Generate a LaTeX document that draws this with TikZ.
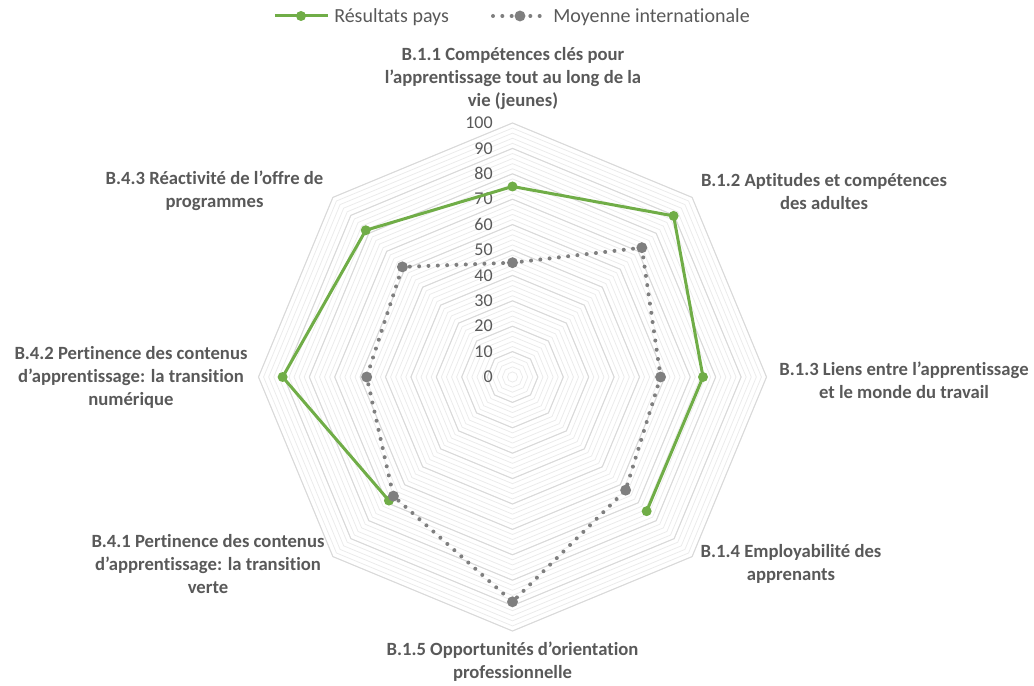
\documentclass[tikz,border=0pt]{standalone}
\usepackage{fontspec}
\setmainfont{Carlito}[Ligatures=NoCommon]
\definecolor{paysgreen}{HTML}{70AD47}
\definecolor{moygray}{HTML}{7F7F7F}
\definecolor{txtgray}{HTML}{595959}
\definecolor{gridmajor}{HTML}{D9D9D9}
\definecolor{gridminor}{HTML}{EBEBEB}
\tikzset{
  catlabel/.style={font=\bfseries\fontsize{14}{17.25}\selectfont, text=txtgray, align=center, inner sep=0pt},
  ticklabel/.style={font=\fontsize{13.5}{16}\selectfont, text=txtgray, anchor=east, inner sep=0pt},
  legendtext/.style={font=\fontsize{15}{18}\selectfont, text=txtgray, anchor=west, inner sep=0pt},
  paysline/.style={paysgreen, line width=2.25pt, line join=round},
  moyline/.style={moygray, line width=3pt, line cap=round, dash pattern=on 0pt off 7pt},
}
\begin{document}
\begin{tikzpicture}[x=0.75pt, y=0.75pt]
  \useasboundingbox (-512.5,-308) rectangle (521.5,377);
  \def\rs{2.54}
  % Grid
  \foreach \k in {1,...,50} {
    \pgfmathsetmacro\r{2*\k*\rs}
    \draw[gridminor, line width=0.6pt] (90:\r) \foreach \a in {45,0,...,-225} {-- (\a:\r)} -- cycle;
  }
  \foreach \k in {10,20,...,100} {
    \pgfmathsetmacro\r{\k*\rs}
    \draw[gridmajor, line width=0.75pt] (90:\r) \foreach \a in {45,0,...,-225} {-- (\a:\r)} -- cycle;
  }
  \foreach \v in {0,10,...,100}
    \node[ticklabel] (t\v) at (-19.5,\v*\rs) {\v};
  % Categories
  \node[catlabel] (l11) at (0.5,298) {B.1.1 Compétences clés pour\\l’apprentissage tout au long de la\\vie (jeunes)};
  \node[catlabel] (l12) at (311.5,185.5) {B.1.2 Aptitudes et compétences\\des adultes};
  \node[catlabel] (l13) at (391.5,-3) {B.1.3 Liens entre l’apprentissage\\et le monde du travail};
  \node[catlabel] (l14) at (278.5,-187) {B.1.4 Employabilité des\\apprenants};
  \node[catlabel] (l15) at (0,-285) {B.1.5 Opportunités d’orientation\\professionnelle};
  \node[catlabel] (l41) at (-304.5,-187) {B.4.1 Pertinence des contenus\\d’apprentissage: la transition\\verte};
  \node[catlabel] (l42) at (-381.5,-0.7) {B.4.2 Pertinence des contenus\\d’apprentissage: la transition\\numérique};
  \node[catlabel] (l43) at (-298,186) {B.4.3 Réactivité de l’offre de\\programmes};
  % Points
  \foreach \a/\v/\n in {90/75/p1, 45/89.7/p2, 0/75/p3, -45/74.7/p4, -135/68.8/p6, 180/90.5/p7, 135/81.7/p8}
    \coordinate (\n) at (\a:\v*\rs);
  \foreach \a/\v/\n in {90/45/m1, 45/72/m2, 0/58.3/m3, -45/63/m4, -90/88.5/m5, -135/66.3/m6, 180/57.4/m7, 135/61.3/m8}
    \coordinate (\n) at (\a:\v*\rs);
  % Series
  \draw[paysline] (p6) -- (p7) -- (p8) -- (p1) -- (p2) -- (p3) -- (p4);
  \foreach \n in {p1,p2,p3,p4,p6,p7,p8}
    \fill[paysgreen] (\n) circle (3.75pt);
  \draw[moyline] (m1) -- (m2) -- (m3) -- (m4) -- (m5) -- (m6) -- (m7) -- (m8) -- cycle;
  \foreach \n in {m1,m2,m3,m4,m5,m6,m7,m8}
    \fill[moygray] (\n) circle (4.1pt);
  % Legend
  \coordinate (lp1) at (-237.5,361);
  \coordinate (lp2) at (-184.5,361);
  \coordinate (lpm) at (-211.5,361);
  \draw[paysline] (lp1) -- (lp2);
  \fill[paysgreen] (lpm) circle (3.75pt);
  \node[legendtext] (legpays) at (-178.5,360) {Résultats pays};
  \coordinate (lm1) at (-19.5,361);
  \coordinate (lm2) at (29.2,361);
  \coordinate (lmm) at (7.5,361);
  \draw[moyline] (lm1) -- (lm2);
  \fill[moygray] (lmm) circle (4.1pt);
  \node[legendtext] (legmoy) at (40.5,360) {Moyenne internationale};
\end{tikzpicture}
\end{document}
